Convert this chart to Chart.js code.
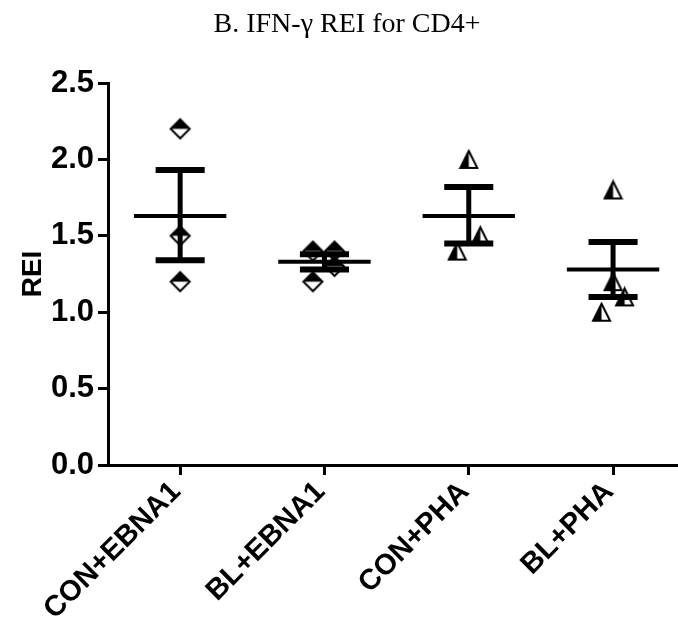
<!DOCTYPE html>
<html>
<head>
<meta charset="utf-8">
<script src="https://cdn.jsdelivr.net/npm/chart.js@4"></script>
<style>
  html, body { margin: 0; padding: 0; background: #fff; }
  #wrap { width: 678px; height: 632px; }
</style>
</head>
<body>
<div id="wrap"><canvas id="chart"></canvas></div>
<script>
const categories = ['CON+EBNA1', 'BL+EBNA1', 'CON+PHA', 'BL+PHA'];
const conEbna1 = [2.2, 1.5, 1.2];
const blEbna1 = [1.4, 1.4, 1.3, 1.2];
const conPha = [2.0, 1.5, 1.4];
const blPha = [1.8, 1.2, 1.1, 1.0];

// Mean and SEM bars as drawn in the figure
const means = [1.63, 1.33, 1.63, 1.28];
const semLow = [1.34, 1.28, 1.45, 1.10];
const semHigh = [1.93, 1.38, 1.82, 1.46];

const yTicks = [0, 0.5, 1.0, 1.5, 2.0, 2.5];

// horizontal scatter of the points inside each column (category units)
const jitter = [
    [0, 0, 0],
    [-0.08, 0.07, 0.07, -0.08],
    [0, 0.08, -0.08],
    [0, 0, 0.08, -0.08]
];

// half-filled markers, like the GraphPad ones
function diamondMarker(s) {
    const c = document.createElement('canvas');
    c.width = s + 4; c.height = s + 4;
    const g = c.getContext('2d');
    const m = (s + 4) / 2, r = s / 2;
    g.beginPath();
    g.moveTo(m, m - r); g.lineTo(m + r, m); g.lineTo(m, m + r); g.lineTo(m - r, m); g.closePath();
    g.fillStyle = '#fff'; g.fill();
    g.beginPath();
    g.moveTo(m, m - r); g.lineTo(m + r, m); g.lineTo(m - r, m); g.closePath();
    g.fillStyle = '#000'; g.fill();
    g.beginPath();
    g.moveTo(m, m - r); g.lineTo(m + r, m); g.lineTo(m, m + r); g.lineTo(m - r, m); g.closePath();
    g.lineWidth = 2; g.strokeStyle = '#000'; g.stroke();
    return c;
}

function triangleMarker(s) {
    const c = document.createElement('canvas');
    c.width = s + 4; c.height = s + 4;
    const g = c.getContext('2d');
    const m = (s + 4) / 2, r = s / 2;
    g.beginPath();
    g.moveTo(m, m - r); g.lineTo(m + r, m + r); g.lineTo(m - r, m + r); g.closePath();
    g.fillStyle = '#fff'; g.fill();
    g.beginPath();
    g.moveTo(m, m - r); g.lineTo(m, m + r); g.lineTo(m - r, m + r); g.closePath();
    g.fillStyle = '#000'; g.fill();
    g.beginPath();
    g.moveTo(m, m - r); g.lineTo(m + r, m + r); g.lineTo(m - r, m + r); g.closePath();
    g.lineWidth = 2; g.lineJoin = 'miter'; g.strokeStyle = '#000'; g.stroke();
    return c;
}

const diamond = diamondMarker(19);
const triangle = triangleMarker(17);

const groups = [conEbna1, blEbna1, conPha, blPha];
const markers = [diamond, diamond, triangle, triangle];

const datasets = groups.map((vals, i) => ({
    label: categories[i],
    data: vals.map((v, j) => ({ x: i + 1 + jitter[i][j], y: v })),
    pointStyle: markers[i],
    pointRadius: 10,
    pointHoverRadius: 10,
    showLine: false
}));

// mean line + SEM whiskers, drawn over the points as in the figure
const meanSemPlugin = {
    id: 'meanSem',
    afterDatasetsDraw(chart) {
        const { ctx, scales: { x, y } } = chart;
        ctx.save();
        ctx.strokeStyle = '#000';
        ctx.lineCap = 'butt';
        categories.forEach((c, i) => {
            const cx = x.getPixelForValue(i + 1);
            const meanHalf = x.getPixelForValue(i + 1.32) - cx;
            const capHalf = x.getPixelForValue(i + 1.17) - cx;
            const ym = y.getPixelForValue(means[i]);
            const yl = y.getPixelForValue(semLow[i]);
            const yh = y.getPixelForValue(semHigh[i]);

            ctx.lineWidth = 5;
            ctx.beginPath();
            ctx.moveTo(cx, yh); ctx.lineTo(cx, yl);
            ctx.stroke();

            ctx.lineWidth = 6;
            ctx.beginPath();
            ctx.moveTo(cx - capHalf, yh); ctx.lineTo(cx + capHalf, yh);
            ctx.moveTo(cx - capHalf, yl); ctx.lineTo(cx + capHalf, yl);
            ctx.stroke();

            ctx.lineWidth = 4;
            ctx.beginPath();
            ctx.moveTo(cx - meanHalf, ym); ctx.lineTo(cx + meanHalf, ym);
            ctx.stroke();
        });
        ctx.restore();
    }
};

const sans = "'Liberation Sans', Arial, sans-serif";

new Chart(document.getElementById('chart'), {
    type: 'scatter',
    data: { datasets },
    options: {
        responsive: true,
        maintainAspectRatio: false,
        animation: false,
        layout: { autoPadding: false, padding: { left: 16, right: 0, top: 0, bottom: 0 } },
        plugins: {
            legend: { display: false },
            tooltip: { enabled: false },
            title: {
                display: true,
                text: 'B. IFN-\u03b3 REI for CD4+',
                color: '#000',
                font: { family: "'Liberation Serif', 'Times New Roman', serif", size: 28, weight: 'normal', lineHeight: 1.2 },
                padding: { top: 8, bottom: 41.4 }
            }
        },
        scales: {
            x: {
                type: 'linear',
                min: 0.5,
                max: 4.45,
                afterFit(scale) {
                    scale.height = 167;
                    scale.paddingLeft = 0;
                    scale.paddingRight = 0;
                },
                afterBuildTicks(scale) { scale.ticks = categories.map((c, i) => ({ value: i + 1 })); },
                border: { display: true, color: '#000', width: 3 },
                grid: { drawOnChartArea: false, color: '#000', tickColor: '#000', tickWidth: 3, tickLength: 10 },
                ticks: {
                    color: '#000',
                    font: { family: sans, size: 29, weight: 'bold' },
                    autoSkip: false,
                    minRotation: 45,
                    maxRotation: 45,
                    padding: 0,
                    labelOffset: -4,
                    callback: (v) => categories[Math.round(v) - 1]
                }
            },
            y: {
                min: 0,
                max: 2.5,
                afterFit(scale) { scale.width = 92; },
                afterBuildTicks(scale) { scale.ticks = yTicks.map(v => ({ value: v })); },
                border: { display: true, color: '#000', width: 3 },
                grid: { drawOnChartArea: false, color: '#000', tickColor: '#000', tickWidth: 3, tickLength: 10 },
                ticks: {
                    color: '#000',
                    font: { family: sans, size: 31, weight: 'bold' },
                    padding: 4,
                    callback: (v) => v.toFixed(1)
                },
                title: {
                    display: true,
                    text: 'REI',
                    color: '#000',
                    font: { family: sans, size: 28, weight: 'bold' },
                    padding: 0
                }
            }
        }
    },
    plugins: [meanSemPlugin]
});
</script>
</body>
</html>
